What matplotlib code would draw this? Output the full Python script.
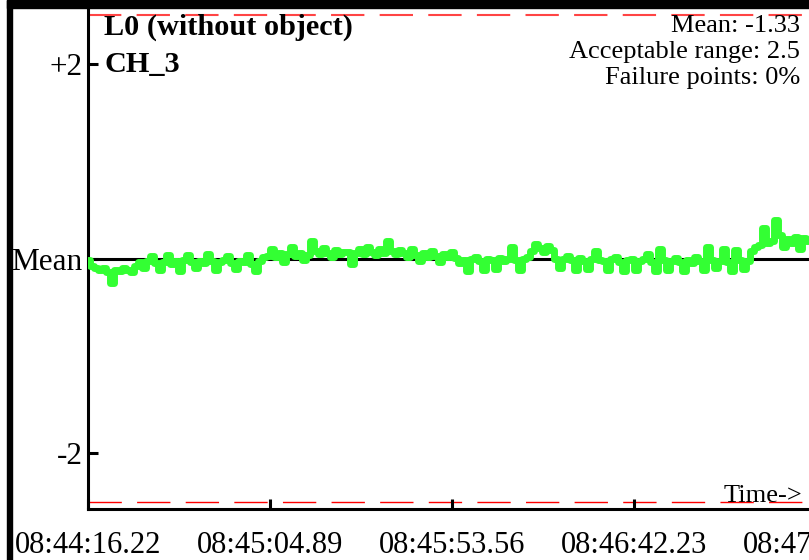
import numpy as np
import matplotlib
matplotlib.use("Agg")
import matplotlib.pyplot as plt
from matplotlib.patches import Rectangle

# ---- data ----
title_lines = ["L0 (without object)", "CH_3"]
stats_lines = ["Mean: -1.33", "Acceptable range: 2.5", "Failure points: 0%"]
mean_value = -1.33
acceptable_range = 2.5
x_tick_seconds = [0.0, 48.67, 97.34, 146.01, 194.68]
x_tick_labels = ["08:44:16.22", "08:45:04.89", "08:45:53.56", "08:46:42.23", "08:47:30.90"]
y_tick_values = [2, 0, -2]
y_tick_labels = ["+2", "Mean", "-2"]
duration_s = 192.5

# deviation from mean, sampled along time
deviation = [
    -0.02, -0.08, -0.10,
    -0.12, -0.10, -0.14, -0.25, -0.12, -0.13, -0.10, -0.12, -0.14, -0.08,
    -0.04, -0.10, -0.03, 0.03, -0.05, -0.12, -0.04, 0.04, -0.06, -0.03, -0.13, -0.02, 0.04, -0.04, -0.10, -0.03,
    -0.05, 0.05, -0.03, -0.12, -0.04, -0.02, 0.03, -0.05, -0.11, -0.03, -0.04, 0.04, -0.06, -0.13, -0.03, 0.02,
    0.03, 0.10, 0.02, 0.06, -0.04, 0.05, 0.12, 0.03, 0.06, -0.02, 0.04,
    0.18, 0.08, 0.05, 0.11, 0.06, 0.02, 0.09, 0.05, 0.07,
    0.07, -0.06, 0.06, 0.10, 0.05, 0.12, 0.07, 0.04, 0.10, 0.06, 0.18, 0.08, 0.05, 0.09,
    0.06, 0.02, 0.10, 0.04, -0.03, 0.06, 0.02, 0.08, 0.03, -0.04, 0.05, 0.02, 0.07, 0.01, -0.05,
    -0.02, -0.13, -0.01, 0.02, -0.03, -0.12, 0.00, -0.02, -0.11, 0.01, -0.03, -0.01, 0.12, -0.02, -0.12, -0.01, 0.02,
    0.08, 0.15, 0.11, 0.07, 0.13, 0.09,
    -0.01, -0.10, 0.00, 0.03, -0.02, -0.12, 0.01, -0.03, -0.11, 0.00, 0.08, -0.02,
    -0.03, -0.12, -0.01, 0.02, -0.04, -0.13, -0.02, 0.00, -0.12, -0.03, -0.01, 0.05, -0.04, -0.13, 0.10,
    -0.02, -0.12, -0.03, 0.01, -0.04, -0.13, -0.02, -0.05, 0.02, -0.03, -0.12, 0.12, -0.02, -0.10, -0.03, 0.10,
    -0.04, -0.13, 0.09, -0.02, -0.11, -0.03,
    0.08, 0.12, 0.14, 0.31, 0.16,
    0.18, 0.40, 0.24, 0.12, 0.20, 0.16, 0.22, 0.10, 0.21, 0.18,
]
times = np.linspace(0, duration_s, len(deviation))

# ---- figure ----
W, H = 809, 560
plt.rcParams['font.family'] = ['Liberation Serif', 'DejaVu Serif']
fig = plt.figure(figsize=(W / 100, H / 100), dpi=100)
fig.patch.set_facecolor('white')

def fx(px):
    return px / W

def fy(py):
    return 1 - py / H

ax_left, ax_right_px, ax_top, ax_bottom = 88, 836, 8, 509
ax = fig.add_axes([fx(ax_left), fy(ax_bottom), (ax_right_px - ax_left) / W, (ax_bottom - ax_top) / H])
ax.set_xlim(0, 200)
ax.set_ylim(-2.576, 2.576)

# acceptable range lines
ax.axhline(acceptable_range, color='#ff3030', lw=1.5, dashes=(24 / 1.5, 11 / 1.5), alpha=0.9, zorder=1)
ax.axhline(-acceptable_range, color='red', lw=1.0, dashes=(24, 11), zorder=1)
# mean line
ax.axhline(0, color='black', lw=2.2, zorder=2)
# data
ax.plot(times, deviation, color='#33ff33', lw=5.0, drawstyle='steps-mid',
        solid_joinstyle='round', solid_capstyle='round', zorder=3)

for side in ('top', 'right'):
    ax.spines[side].set_visible(False)
for side in ('left', 'bottom'):
    ax.spines[side].set_linewidth(2.2)

ax.set_xticks(x_tick_seconds)
ax.set_xticklabels(x_tick_labels)
ax.set_yticks(y_tick_values)
ax.set_yticklabels(y_tick_labels)
ax.tick_params(axis='x', direction='in', length=7, width=2.2, pad=15.5, labelsize=22)
ax.tick_params(axis='y', direction='in', length=7, width=2.2, pad=4, labelsize=22.5)

# frame bands
fig.patches.append(Rectangle((fx(7), 0), fx(12) - fx(7), 1, transform=fig.transFigure,
                             color='black', zorder=10))
fig.patches.append(Rectangle((fx(7), fy(8)), 1, fy(0) - fy(8), transform=fig.transFigure,
                             color='black', zorder=10))

# texts
fig.text(fx(104), fy(35), title_lines[0], fontsize=21.8, fontweight='bold', ha='left', va='baseline')
fig.text(fx(104), fy(72), title_lines[1], fontsize=21.8, fontweight='bold', ha='left', va='baseline')
for i, line in enumerate(stats_lines):
    fig.text(fx(800), fy(32 + 26 * i), line, fontsize=19, ha='right', va='baseline')
fig.text(fx(802), fy(502), "Time->", fontsize=19, ha='right', va='baseline')

fig.savefig("out.png", dpi=100)
